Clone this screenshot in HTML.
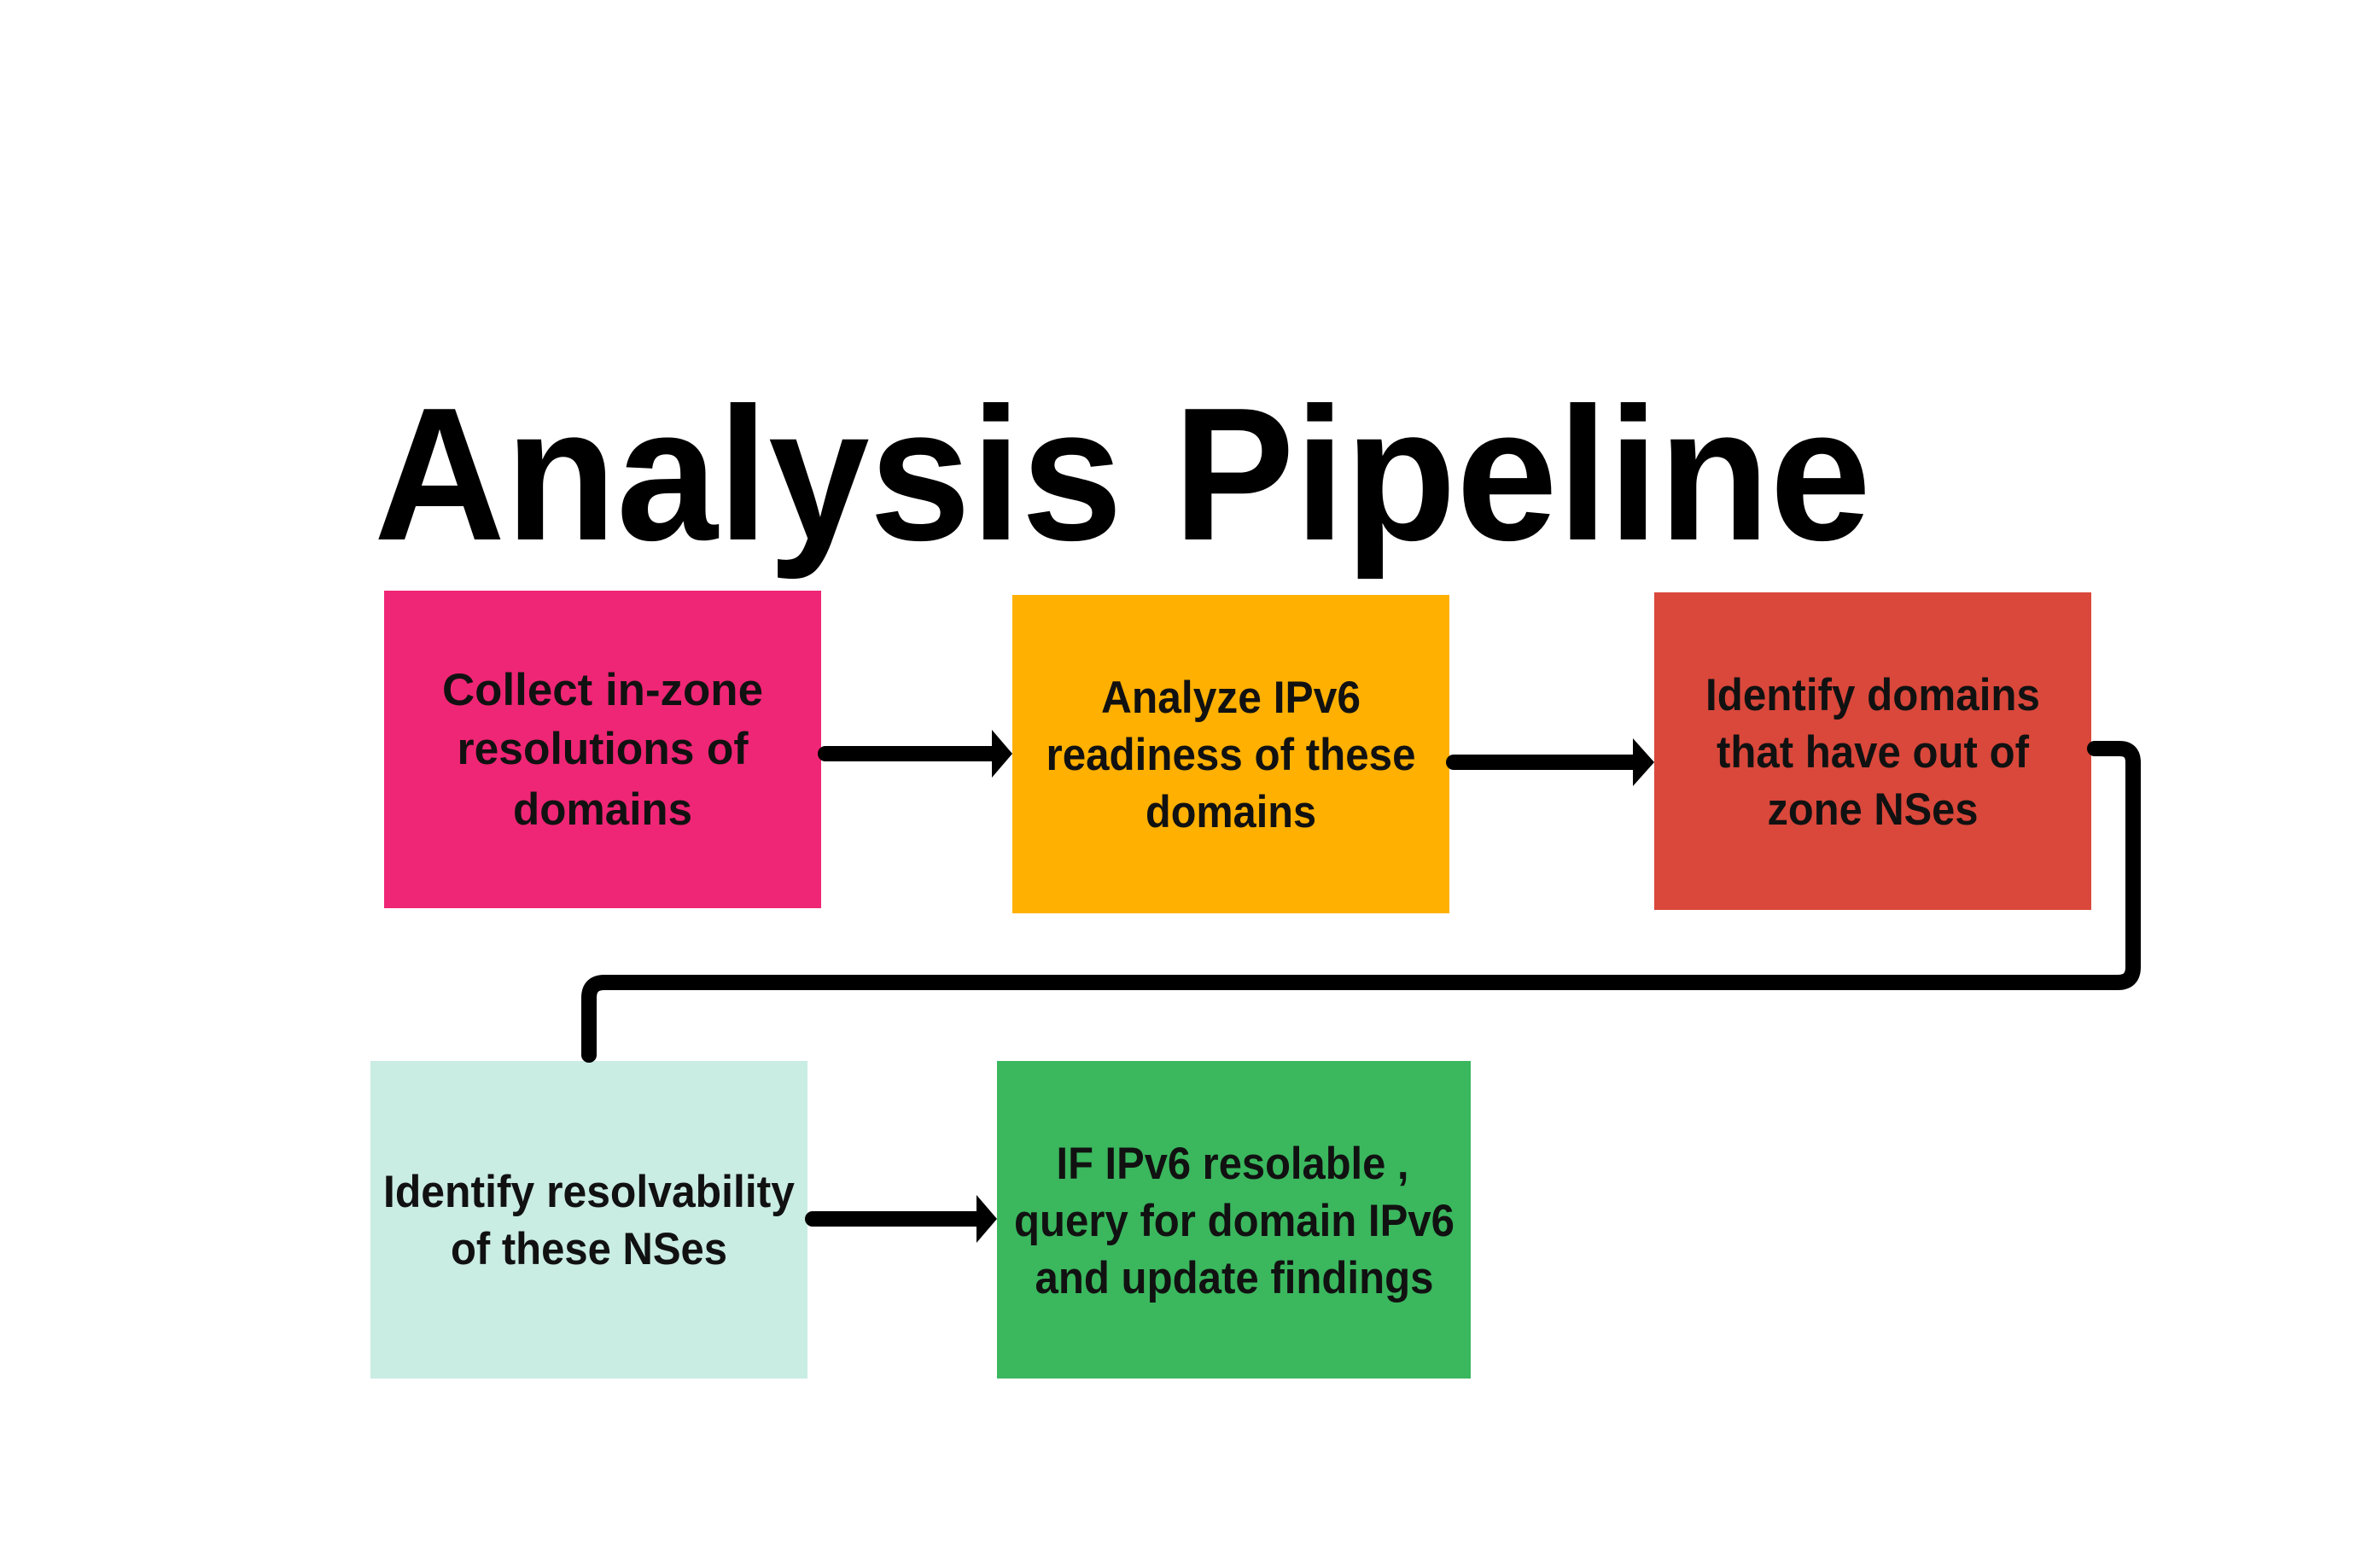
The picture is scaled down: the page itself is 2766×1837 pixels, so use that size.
<!DOCTYPE html>
<html><head><style>html,body{margin:0;padding:0;background:#fff;}svg{display:block}</style></head>
<body>
<svg width="2766" height="1837" viewBox="0 0 2766 1837" xmlns="http://www.w3.org/2000/svg" font-family="Liberation Sans, sans-serif" font-weight="bold">
<rect width="2766" height="1837" fill="#fff"/>
<text x="438" y="632" font-size="222" textLength="1754" lengthAdjust="spacingAndGlyphs" fill="#000">Analysis Pipeline</text>

<rect x="450" y="692" width="512" height="372" fill="#EF2675"/>
<rect x="1186" y="697" width="512" height="373" fill="#FFB000"/>
<rect x="1938" y="694" width="512" height="372" fill="#D9483B"/>
<rect x="434" y="1243" width="512" height="372" fill="#C9ECE3"/>
<rect x="1168" y="1243" width="555" height="372" fill="#3BB75E"/>

<g fill="none" stroke="#000" stroke-width="18" stroke-linecap="round" stroke-linejoin="round">
<line x1="967" y1="883" x2="1162" y2="883"/>
<line x1="1703" y1="893" x2="1915" y2="893"/>
<line x1="952" y1="1428" x2="1145" y2="1428"/>
<path d="M2454 877 H2483 Q2499 877 2499 893 V1133 Q2499 1151 2481 1151 H708 Q690 1151 690 1169 V1236"/>
</g>
<g fill="#000">
<polygon points="1162,855 1186,883 1162,911"/>
<polygon points="1913,865 1938,893 1913,921"/>
<polygon points="1144,1400 1168,1428 1144,1456"/>
</g>

<g font-size="53" fill="#111" text-anchor="middle">
<text x="706" y="826" textLength="376" lengthAdjust="spacingAndGlyphs">Collect in-zone</text>
<text x="706" y="895" textLength="341" lengthAdjust="spacingAndGlyphs">resolutions of</text>
<text x="706" y="966" textLength="210" lengthAdjust="spacingAndGlyphs">domains</text>

<text x="1442" y="835" textLength="304" lengthAdjust="spacingAndGlyphs">Analyze IPv6</text>
<text x="1442" y="902" textLength="433" lengthAdjust="spacingAndGlyphs">readiness of these</text>
<text x="1442" y="969" textLength="200" lengthAdjust="spacingAndGlyphs">domains</text>

<text x="2194" y="832" textLength="392" lengthAdjust="spacingAndGlyphs">Identify domains</text>
<text x="2194" y="899" textLength="366" lengthAdjust="spacingAndGlyphs">that have out of</text>
<text x="2194" y="966" textLength="247" lengthAdjust="spacingAndGlyphs">zone NSes</text>

<text x="690" y="1414" textLength="482" lengthAdjust="spacingAndGlyphs">Identify resolvability</text>
<text x="690" y="1481" textLength="324" lengthAdjust="spacingAndGlyphs">of these NSes</text>

<text x="1444" y="1381" textLength="413" lengthAdjust="spacingAndGlyphs">IF IPv6 resolable ,</text>
<text x="1446" y="1448" textLength="516" lengthAdjust="spacingAndGlyphs">query for domain IPv6</text>
<text x="1446" y="1515" textLength="467" lengthAdjust="spacingAndGlyphs">and update findings</text>
</g>
</svg>
</body></html>
